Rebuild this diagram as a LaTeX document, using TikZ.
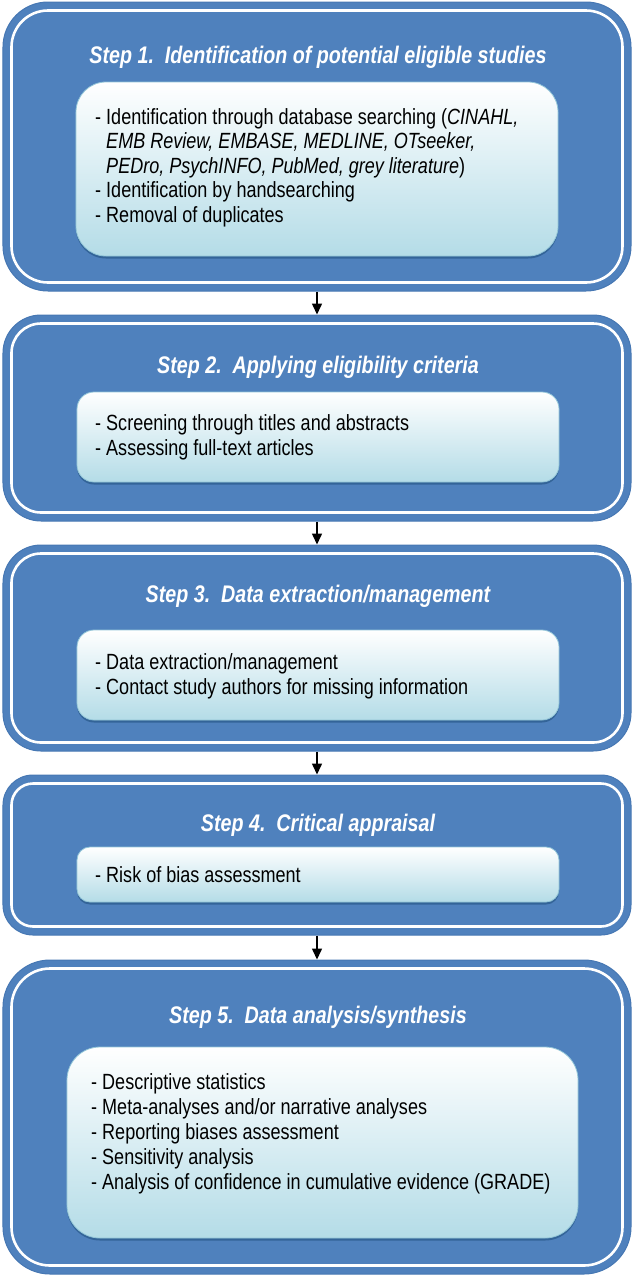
\documentclass[tikz,border=0pt]{standalone}
\usepackage{fontspec}
\setmainfont{Liberation Sans}[FakeStretch=0.82]
\usetikzlibrary{arrows.meta,shadows}
\definecolor{blueA}{HTML}{4F81BD}
\definecolor{blueEdge}{HTML}{4677B3}
\definecolor{lightB}{HTML}{B4DCE7}
\definecolor{innerEdge}{HTML}{93C6D8}
\definecolor{shadowB}{HTML}{2F5F92}
\tikzset{
  outerbox/.style={fill=blueA, draw=blueEdge, line width=1bp, inner sep=0pt},
  whiteline/.style={draw=white, line width=2.6bp, inner sep=0pt},
  innerbox/.style={top color=white, bottom color=lightB, draw=innerEdge, line width=0.8bp, inner sep=0pt,
    drop shadow={shadow xshift=0bp, shadow yshift=-2.5bp, fill=shadowB, opacity=0.85}},
  titletext/.style={text=white, font=\fontsize{24bp}{28bp}\selectfont\bfseries\itshape, inner sep=0pt, anchor=base},
  bodytext/.style={text=black, font=\fontsize{22bp}{25bp}\selectfont, inner sep=0pt, anchor=base west},
  arr/.style={draw=black, line width=1.5bp, -{Triangle[width=10bp,length=11bp]}},
}
\begin{document}
\begin{tikzpicture}[x=1bp,y=-1bp]
\useasboundingbox (0,0) rectangle (634,1278);
% ---------- Step 1
\node[outerbox, minimum width=628bp, minimum height=289bp, rounded corners=45bp] (b1) at (317,146.5) {};
\node[whiteline, minimum width=611bp, minimum height=272bp, rounded corners=36.5bp] (w1) at (317,146.5) {};
\node[innerbox, minimum width=482bp, minimum height=174bp, rounded corners=30bp] (c1) at (317,169) {};
\node[titletext] (h1) at (318,63.5) {Step 1.\ \ Identification of potential eligible studies};
\node[bodytext] (t1a) at (95,124) {- Identification through database searching (\textit{CINAHL,}};
\node[bodytext] (t1b) at (95,148.6) {\phantom{- }\textit{EMB Review, EMBASE, MEDLINE, OTseeker,}};
\node[bodytext] (t1c) at (95,173.2) {\phantom{- }\textit{PEDro, PsychINFO, PubMed, grey literature})};
\node[bodytext] (t1d) at (95,197.8) {- Identification by handsearching};
\node[bodytext] (t1e) at (95,222.4) {- Removal of duplicates};
% ---------- Step 2
\node[outerbox, minimum width=628bp, minimum height=206bp, rounded corners=38bp] (b2) at (317,418) {};
\node[whiteline, minimum width=611bp, minimum height=189bp, rounded corners=29.5bp] (w2) at (317,418) {};
\node[innerbox, minimum width=482bp, minimum height=90bp, rounded corners=17bp] (c2) at (318,437) {};
\node[titletext] (h2) at (318,373.5) {Step 2.\ \ Applying eligibility criteria};
\node[bodytext] (t2a) at (95,430) {- Screening through titles and abstracts};
\node[bodytext] (t2b) at (95,455) {- Assessing full-text articles};
% ---------- Step 3
\node[outerbox, minimum width=628bp, minimum height=206bp, rounded corners=38bp] (b3) at (317,648) {};
\node[whiteline, minimum width=611bp, minimum height=189bp, rounded corners=29.5bp] (w3) at (317,648) {};
\node[innerbox, minimum width=482bp, minimum height=90bp, rounded corners=17bp] (c3) at (318,675) {};
\node[titletext] (h3) at (318,602.5) {Step 3.\ \ Data extraction/management};
\node[bodytext] (t3a) at (95,669) {- Data extraction/management};
\node[bodytext] (t3b) at (95,694) {- Contact study authors for missing information};
% ---------- Step 4
\node[outerbox, minimum width=628bp, minimum height=160bp, rounded corners=30bp] (b4) at (317,855) {};
\node[whiteline, minimum width=611bp, minimum height=143bp, rounded corners=21.5bp] (w4) at (317,855) {};
\node[innerbox, minimum width=482bp, minimum height=55bp, rounded corners=13bp] (c4) at (318,874.5) {};
\node[titletext] (h4) at (318,831.5) {Step 4.\ \ Critical appraisal};
\node[bodytext] (t4a) at (95,882) {- Risk of bias assessment};
% ---------- Step 5
\node[outerbox, minimum width=628bp, minimum height=314bp, rounded corners=47bp] (b5) at (317,1117) {};
\node[whiteline, minimum width=611bp, minimum height=297bp, rounded corners=38.5bp] (w5) at (317,1117) {};
\node[innerbox, minimum width=511bp, minimum height=191bp, rounded corners=33bp] (c5) at (322.5,1142.5) {};
\node[titletext] (h5) at (318,1023.5) {Step 5.\ \ Data analysis/synthesis};
\node[bodytext] (t5a) at (91,1089) {- Descriptive statistics};
\node[bodytext] (t5b) at (91,1114.2) {- Meta-analyses and/or narrative analyses};
\node[bodytext] (t5c) at (91,1139.4) {- Reporting biases assessment};
\node[bodytext] (t5d) at (91,1164.6) {- Sensitivity analysis};
\node[bodytext] (t5e) at (91,1189.8) {- Analysis of confidence in cumulative evidence (GRADE)};
% ---------- connectors
\draw[arr] (b1.south) -- (b2.north);
\draw[arr] (b2.south) -- (b3.north);
\draw[arr] (b3.south) -- (b4.north);
\draw[arr] (b4.south) -- (b5.north);
\end{tikzpicture}
\end{document}
